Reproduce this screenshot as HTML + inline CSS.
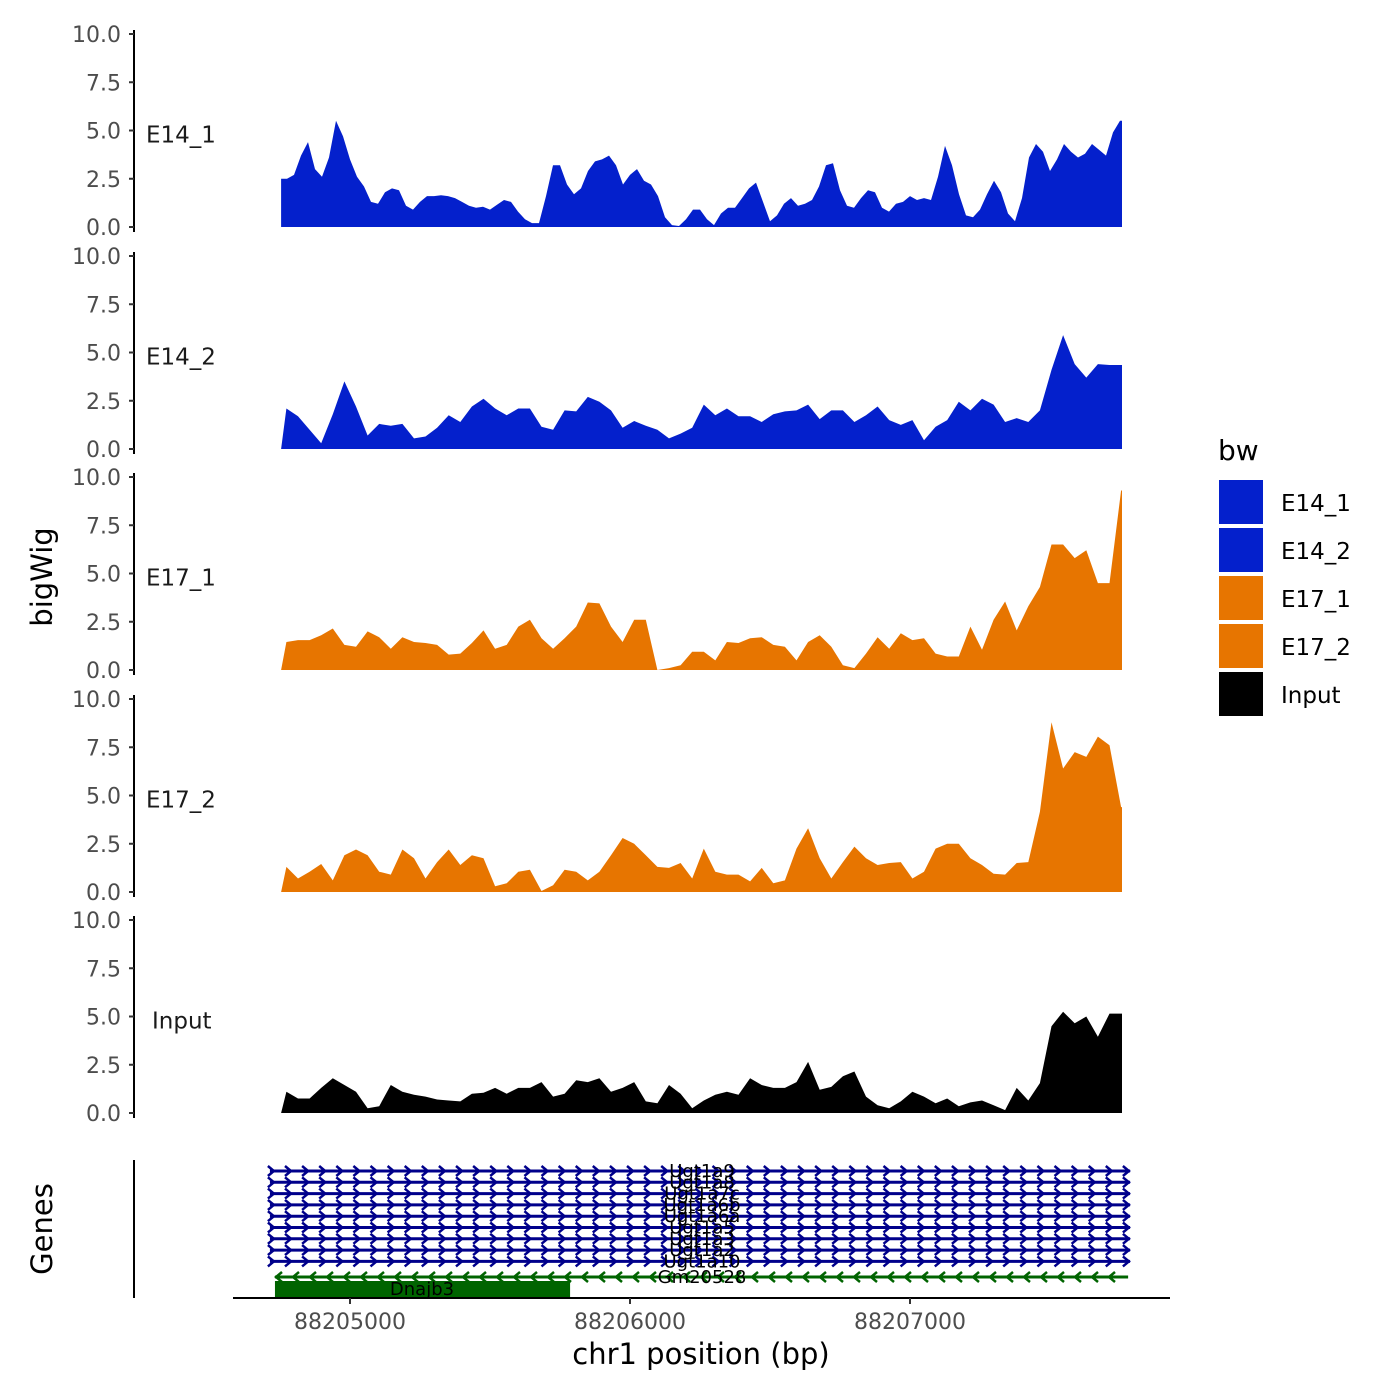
<!DOCTYPE html>
<html><head><meta charset="utf-8"><style>
html,body{margin:0;padding:0;background:#fff;}
svg{display:block;font-family:"DejaVu Sans","Liberation Sans",sans-serif;}
</style></head><body>
<svg id="chart" width="1400" height="1400" viewBox="0 0 1400 1400" xmlns="http://www.w3.org/2000/svg">
<rect width="1400" height="1400" fill="#fff"/>
<text x="0" y="0" transform="translate(52,577) rotate(-90)" font-size="29" text-anchor="middle" fill="#000">bigWig</text>
<text x="0" y="0" transform="translate(52,1229) rotate(-90)" font-size="29" text-anchor="middle" fill="#000">Genes</text>
<text x="701" y="1364" font-size="29" text-anchor="middle" fill="#000">chr1 position (bp)</text>
<text x="1218" y="460" font-size="28" fill="#000">bw</text>
</svg>
<script>
const NS='http://www.w3.org/2000/svg';
const svg=document.getElementById('chart');
const trackNames=['E14_1','E14_2','E17_1','E17_2','Input'];
const trackColors=['#0420CC','#0420CC','#E77500','#E77500','#000000'];
const yTicks=[0,2.5,5,7.5,10];
const yTickLabels=['0.0','2.5','5.0','7.5','10.0'];
const xTicks=[88205000,88206000,88207000];
const xTickLabels=['88205000','88206000','88207000'];
const dataStartBp=88204754, dataEndBp=88207757;
const e14_1Start=88204750, e14_1Step=25;
const e14_1=[2.5,2.5,2.7,3.7,4.4,3.0,2.6,3.6,5.5,4.7,3.5,2.6,2.1,1.3,1.2,1.8,2.0,1.9,1.1,0.9,1.3,1.6,1.6,1.65,1.6,1.5,1.3,1.1,1.0,1.05,0.9,1.15,1.4,1.3,0.8,0.4,0.2,0.2,1.6,3.2,3.2,2.2,1.7,2.0,2.9,3.4,3.5,3.7,3.2,2.2,2.7,3.0,2.4,2.2,1.6,0.5,0.1,0.05,0.4,0.9,0.9,0.4,0.1,0.7,1.0,1.0,1.5,2.0,2.3,1.3,0.3,0.6,1.2,1.5,1.1,1.2,1.4,2.1,3.2,3.3,1.9,1.1,1.0,1.5,1.9,1.8,1.0,0.8,1.2,1.3,1.6,1.4,1.5,1.4,2.6,4.2,3.2,1.7,0.6,0.5,0.9,1.7,2.4,1.8,0.7,0.3,1.5,3.6,4.3,3.9,2.9,3.5,4.3,3.9,3.6,3.8,4.3,4.0,3.7,4.9,5.5];
const gridStart=88204773, gridStep=41.4;
const e14_2=[2.1,1.7,1.0,0.3,1.8,3.5,2.2,0.7,1.3,1.2,1.3,0.55,0.65,1.1,1.75,1.4,2.2,2.6,2.1,1.75,2.1,2.1,1.15,1.0,2.0,1.95,2.7,2.45,2.0,1.1,1.45,1.2,1.0,0.55,0.8,1.1,2.3,1.75,2.1,1.7,1.7,1.4,1.8,1.95,2.0,2.3,1.55,2.0,2.0,1.4,1.75,2.2,1.5,1.25,1.5,0.45,1.15,1.5,2.45,2.0,2.6,2.3,1.4,1.6,1.4,2.0,4.1,5.9,4.4,3.7,4.4,4.35,4.35];
const e17_1=[1.45,1.55,1.55,1.8,2.15,1.3,1.2,2.0,1.7,1.1,1.7,1.45,1.4,1.3,0.8,0.85,1.4,2.05,1.1,1.3,2.25,2.6,1.65,1.1,1.65,2.25,3.5,3.45,2.25,1.45,2.6,2.6,0,0.1,0.25,0.95,0.95,0.5,1.45,1.4,1.65,1.7,1.3,1.2,0.5,1.45,1.8,1.2,0.25,0.1,0.85,1.7,1.1,1.9,1.55,1.65,0.85,0.7,0.7,2.25,1.05,2.6,3.55,2.05,3.3,4.3,6.5,6.5,5.8,6.2,4.5,4.5,9.3];
const e17_2=[1.3,0.7,1.05,1.45,0.6,1.9,2.2,1.9,1.05,0.9,2.2,1.75,0.7,1.55,2.2,1.4,1.9,1.75,0.3,0.45,1.05,1.15,0.05,0.35,1.15,1.05,0.6,1.05,1.9,2.8,2.5,1.9,1.3,1.25,1.5,0.7,2.25,1.05,0.9,0.9,0.55,1.25,0.45,0.6,2.25,3.3,1.75,0.7,1.55,2.35,1.75,1.4,1.5,1.55,0.7,1.05,2.25,2.5,2.5,1.75,1.4,0.95,0.9,1.5,1.55,4.15,8.8,6.4,7.25,7.0,8.05,7.6,4.4];
const input=[1.1,0.75,0.75,1.3,1.8,1.45,1.1,0.25,0.35,1.45,1.1,0.95,0.85,0.7,0.65,0.6,1.0,1.05,1.3,1.0,1.3,1.3,1.6,0.85,1.0,1.7,1.6,1.8,1.1,1.3,1.6,0.6,0.5,1.45,1.0,0.25,0.65,0.95,1.1,0.95,1.8,1.45,1.3,1.3,1.6,2.65,1.2,1.35,1.9,2.15,0.85,0.4,0.25,0.6,1.1,0.85,0.5,0.75,0.35,0.55,0.65,0.4,0.15,1.3,0.65,1.55,4.5,5.25,4.65,5.0,3.95,5.15,5.15];
const trackValues=[e14_1,e14_2,e17_1,e17_2,input];
const trackStarts=[e14_1Start,gridStart,gridStart,gridStart,gridStart];
const trackSteps=[e14_1Step,gridStep,gridStep,gridStep,gridStep];
const genesUgt=['Ugt1a9','Ugt1a8','Ugt1a7c','Ugt1a6b','Ugt1a6a','Ugt1a5','Ugt1a3','Ugt1a2','Ugt1a10'];
const ugtStart=88204714, ugtEnd=88207786;
const gm20528=[88204732,88207779];
const dnajb3=[88204732,88205786];

const xScale=bp=>350+(bp-88205000)*0.28;
const panelTop=[34,256,477,699,920];
const panelH=193;
const yScale=(i,v)=>panelTop[i]+panelH-v/10*panelH;

function el(tag,attrs,parent){const e=document.createElementNS(NS,tag);for(const k in attrs)e.setAttribute(k,attrs[k]);(parent||svg).appendChild(e);return e;}

for(let i=0;i<5;i++){
  const g=el('g',{});
  
  
  const vals=trackValues[i];
  const base=yScale(i,0);
  let pts=[];
  pts.push([xScale(dataStartBp),base]);
  vals.forEach((v,j)=>{let bp=trackStarts[i]+j*trackSteps[i];bp=Math.max(dataStartBp,Math.min(dataEndBp,bp));pts.push([xScale(bp),yScale(i,v)]);});
  pts.push([xScale(dataEndBp),yScale(i,vals[vals.length-1])]);
  pts.push([xScale(dataEndBp),base]);
  const area=el('polygon',{points:pts.map(p=>p[0].toFixed(1)+','+p[1].toFixed(1)).join(' '),fill:trackColors[i]},g);
  
  
  const ax=el('line',{x1:134,x2:134,y1:panelTop[i]-4,y2:base+5,stroke:'#000','stroke-width':2},g);
  
  
  yTicks.forEach((t,j)=>{
    const y=yScale(i,t);
    el('line',{x1:129,x2:134,y1:y,y2:y,stroke:'#333','stroke-width':2},g);
    const tx=el('text',{x:121,y:y+8,'font-size':22,'text-anchor':'end',fill:'#4d4d4d'},g);
    tx.textContent=yTickLabels[j];
    
    
  });
  const lab=el('text',{x:i==4?152:146,y:yScale(i,4.8)+8,'font-size':23,fill:'#1a1a1a'},g);
  lab.textContent=trackNames[i];
  
  
}

// genes track
const gg=el('g',{});


el('line',{x1:134,x2:134,y1:1160,y2:1298,stroke:'#000','stroke-width':2},gg);
genesUgt.forEach((name,j)=>{
  const y=1171+j*11.3;
  const x1=xScale(ugtStart),x2=xScale(ugtEnd);
  const ln=el('line',{x1:x1,x2:x2,y1:y,y2:y,stroke:'#00008B','stroke-width':3},gg);
  
  
  let d='';
  for(let x=x1+2;x<=x2+0.5;x+=17.1){d+='M'+(x-4).toFixed(1)+','+(y-5)+'L'+(x+2).toFixed(1)+','+y+'L'+(x-4).toFixed(1)+','+(y+5);}
  el('path',{d:d,stroke:'#00008B','stroke-width':2.5,fill:'none'},gg);
});
genesUgt.forEach((name,j)=>{
  const t=el('text',{x:702,y:1177+j*11.3,'font-size':18,'text-anchor':'middle',fill:'#000'},gg);
  t.textContent=name;
  
  
});
{
  const y=1277;const x1=xScale(gm20528[0]),x2=xScale(gm20528[1]);
  const ln=el('line',{x1:x1,x2:x2,y1:y,y2:y,stroke:'#006400','stroke-width':3},gg);
  
  
  let d='';
  for(let x=x1+4;x<=x2;x+=17){d+='M'+(x+3).toFixed(1)+','+(y-5)+'L'+(x-3).toFixed(1)+','+y+'L'+(x+3).toFixed(1)+','+(y+5);}
  el('path',{d:d,stroke:'#006400','stroke-width':2.5,fill:'none'},gg);
  const b=el('rect',{x:xScale(dnajb3[0]),y:1281,width:xScale(dnajb3[1])-xScale(dnajb3[0]),height:16,fill:'#006400'},gg);
  
  
  const t1=el('text',{x:702,y:1283,'font-size':18,'text-anchor':'middle',fill:'#000'},gg);
  t1.textContent='Gm20528';
  
  
  const t2=el('text',{x:422,y:1295,'font-size':18,'text-anchor':'middle',fill:'#000'},gg);
  t2.textContent='Dnajb3';
  
  
}
// x axis
const xa=el('line',{x1:233,x2:1170,y1:1298,y2:1298,stroke:'#000','stroke-width':2});


xTicks.forEach((t,j)=>{
  const x=xScale(t);
  el('line',{x1:x,x2:x,y1:1298,y2:1304,stroke:'#333','stroke-width':2});
  const tx=el('text',{x:x,y:1329,'font-size':22,'text-anchor':'middle',fill:'#4d4d4d'});
  tx.textContent=xTickLabels[j];
  
  
});
// legend
trackNames.forEach((n,j)=>{
  const y=480+j*48;
  const r=el('rect',{x:1219,y:y,width:44,height:44,fill:trackColors[j]});
  
  
  const t=el('text',{x:1281,y:y+31,'font-size':23,fill:'#000'});
  t.textContent=n;
  
  
});
</script>
</body></html>
